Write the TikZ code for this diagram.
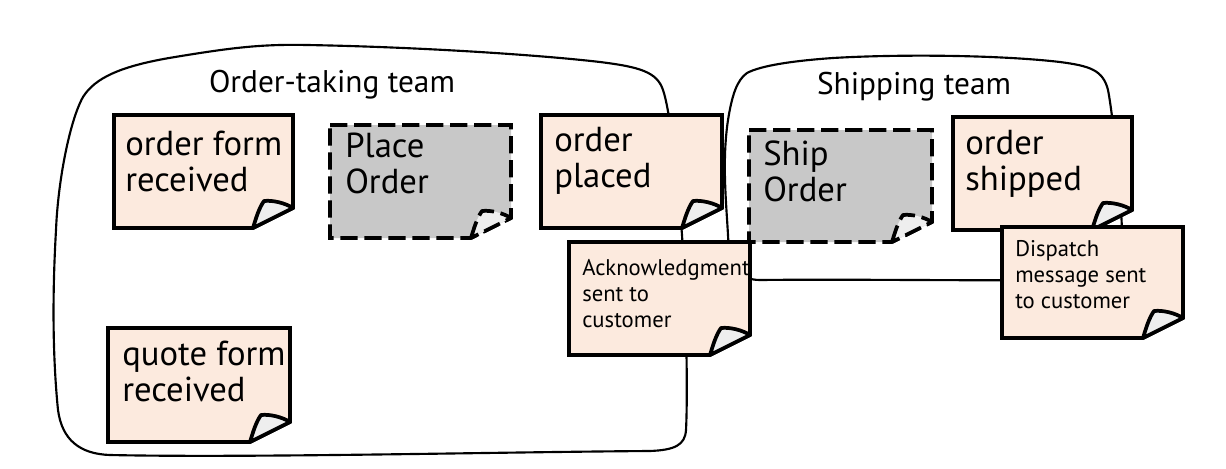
\documentclass[tikz,border=0pt]{standalone}
\usepackage{fontspec}
\setmainfont{PT Sans}
\definecolor{stickyfill}{RGB}{252,234,222}
\definecolor{taskfill}{RGB}{200,200,200}
\definecolor{foldfill}{RGB}{238,238,238}
\begin{document}
\begin{tikzpicture}[x=0.75pt,y=0.75pt,yscale=-1,xscale=1,
  team/.style={line width=1.6pt, line join=round},
  sticky/.style={draw, line width=2.8pt, fill=stickyfill},
  task/.style={draw, line width=2.8pt, fill=taskfill, dash pattern=on 13pt off 5pt},
  fold/.style={draw, line width=2.8pt, fill=foldfill, line join=round},
  taskfold/.style={fold, dash pattern=on 13pt off 5pt},
  bigtxt/.style={anchor=base west, inner sep=0pt, align=left, font=\fontsize{26}{26.5}\selectfont},
  smalltxt/.style={anchor=base west, inner sep=0pt, align=left, font=\fontsize{17}{19.5}\selectfont},
  teamlbl/.style={anchor=base, inner sep=0pt, font=\fontsize{23.5}{26}\selectfont}]
\path (0,0) rectangle (1226,468); %set diagram size 1226 x 468

%Shape: Polygon Curved [id:order-taking team]
\draw [team] (83,97) .. controls (95,78) and (120,66) .. (175,57) .. controls (230,48) and (260,44) .. (307,45) .. controls (420,47) and (540,55) .. (600,62) .. controls (640,67) and (657,72) .. (663,90) .. controls (670,110) and (678,180) .. (682,235) .. controls (686,300) and (688,390) .. (686,430) .. controls (685,445) and (675,450) .. (650,451) .. controls (500,452) and (250,458) .. (110,455) .. controls (80,454) and (62,440) .. (58,410) .. controls (53,360) and (52,300) .. (56,230) .. controls (58,180) and (70,120) .. (83,97) -- cycle ;
%Shape: Polygon Curved [id:shipping team]
\draw [team] (747,73) .. controls (760,66) and (790,61) .. (833,58) .. controls (900,54) and (1000,55) .. (1060,62) .. controls (1090,66) and (1103,70) .. (1108,90) .. controls (1112,110) and (1120,180) .. (1122,230) .. controls (1123,270) and (1110,280) .. (1080,280) .. controls (980,281) and (850,279) .. (760,280) .. controls (738,280) and (729,265) .. (728,235) .. controls (726,200) and (722,160) .. (728,120) .. controls (732,95) and (737,80) .. (747,73) -- cycle ;

% Text Node
\node [teamlbl] (ordteam) at (332,92) {Order-taking team};
% Text Node
\node [teamlbl] (shipteam) at (914,94) {Shipping team};

%Shape: Sticky [id:order form received]
\draw [sticky] (114,115) -- (293,115) -- (293,208) -- (253,228) -- (114,228) -- cycle ;
\draw [fold] (253,228) .. controls (256,218) and (259,208) .. (264,201) .. controls (273,200) and (285,203) .. (293,208) -- cycle ;
%Shape: Sticky [id:place order]
\draw [task] (330,125) -- (511,125) -- (511,218) -- (471,238) -- (330,238) -- cycle ;
\draw [taskfold] (471,238) .. controls (474,228) and (477,218) .. (482,211) .. controls (491,210) and (503,213) .. (511,218) -- cycle ;
%Shape: Sticky [id:order placed]
\draw [sticky] (541,115) -- (722,115) -- (722,208) -- (682,228) -- (541,228) -- cycle ;
\draw [fold] (682,228) .. controls (685,218) and (688,208) .. (693,201) .. controls (702,200) and (714,203) .. (722,208) -- cycle ;
%Shape: Sticky [id:acknowledgment]
\draw [sticky] (569,242) -- (750,242) -- (750,335) -- (710,355) -- (569,355) -- cycle ;
\draw [fold] (710,355) .. controls (713,345) and (716,335) .. (721,328) .. controls (730,327) and (742,330) .. (750,335) -- cycle ;
%Shape: Sticky [id:ship order]
\draw [task] (749,130) -- (932,130) -- (932,222) -- (892,242) -- (749,242) -- cycle ;
\draw [taskfold] (892,242) .. controls (895,232) and (898,222) .. (903,215) .. controls (912,214) and (924,217) .. (932,222) -- cycle ;
%Shape: Sticky [id:order shipped]
\draw [sticky] (953,117) -- (1132,117) -- (1132,210) -- (1092,230) -- (953,230) -- cycle ;
\draw [fold] (1092,230) .. controls (1095,220) and (1098,210) .. (1103,203) .. controls (1112,202) and (1124,205) .. (1132,210) -- cycle ;
%Shape: Sticky [id:dispatch]
\draw [sticky] (1002,227) -- (1183,227) -- (1183,318) -- (1143,338) -- (1002,338) -- cycle ;
\draw [fold] (1143,338) .. controls (1146,328) and (1149,318) .. (1154,311) .. controls (1163,310) and (1175,313) .. (1183,318) -- cycle ;
%Shape: Sticky [id:quote form received]
\draw [sticky] (108,328) -- (290,328) -- (290,422) -- (250,442) -- (108,442) -- cycle ;
\draw [fold] (250,442) .. controls (253,432) and (256,422) .. (261,415) .. controls (270,414) and (282,417) .. (290,422) -- cycle ;

% Text Node (base = last line)
\node [bigtxt] (formrcv) at (125,191) {order form\\received};
% Text Node
\node [bigtxt] (placeord) at (345,193) {Place\\Order};
% Text Node
\node [bigtxt] (ordplaced) at (554,187) {order\\placed};
% Text Node
\node [smalltxt] (acksent) at (582,327) {Acknowledgment\\sent to\\customer};
% Text Node
\node [bigtxt] (shipord) at (763,201) {Ship\\Order};
% Text Node
\node [bigtxt] (ordshipped) at (965,190) {order\\shipped};
% Text Node
\node [smalltxt] (dispsent) at (1015,308) {Dispatch\\message sent\\to customer};
% Text Node
\node [bigtxt] (quotercv) at (122,401) {quote form\\received};

\end{tikzpicture}
\end{document}
